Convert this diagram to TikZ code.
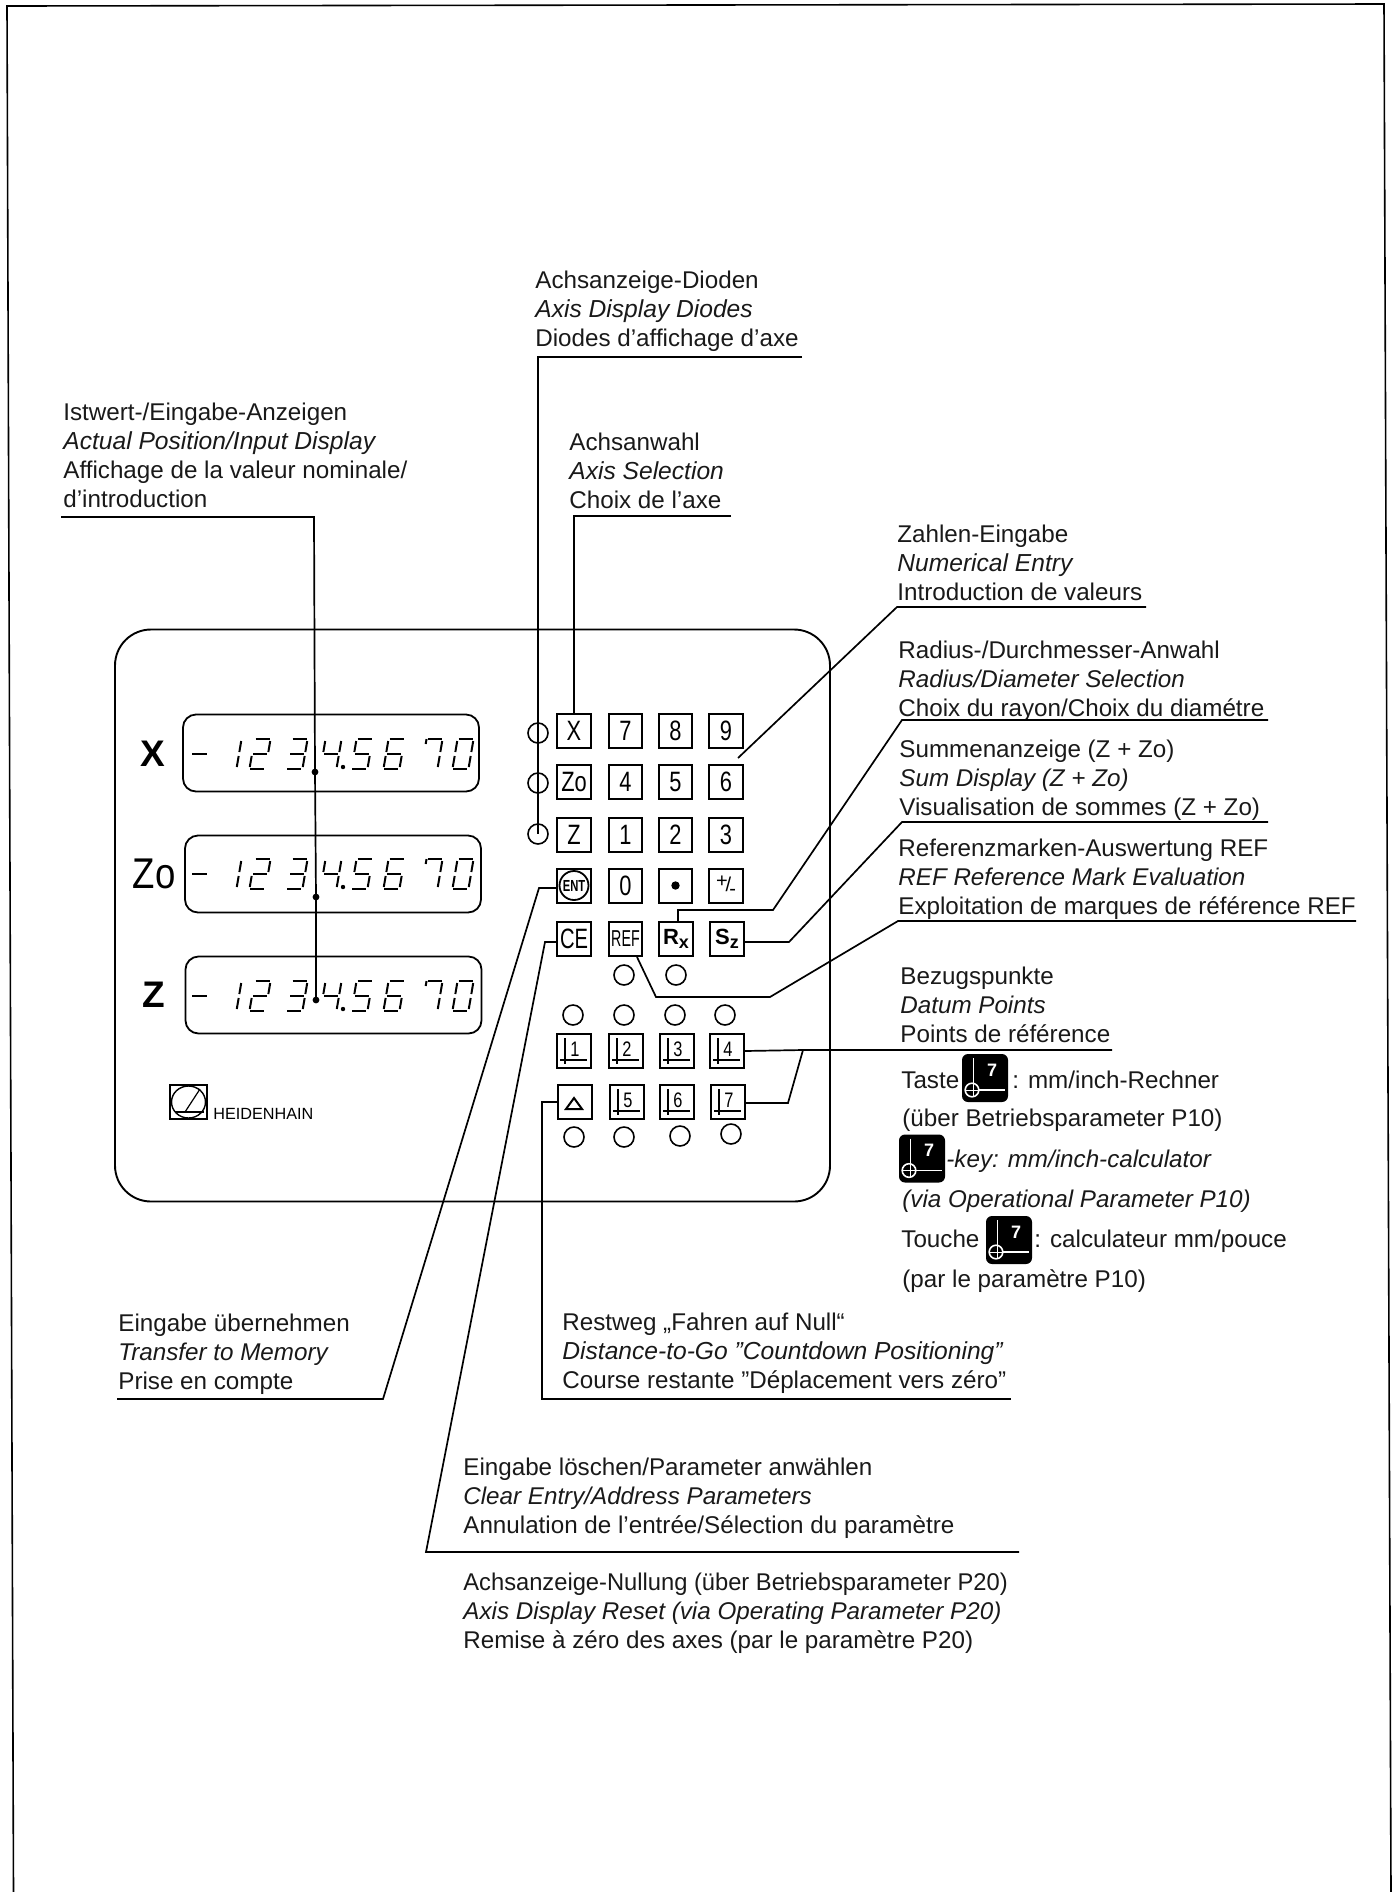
\documentclass[tikz,border=0pt]{standalone}
\usepackage{fontspec}
\usepackage{graphicx}
\setmainfont{Liberation Sans}
\newcommand\fsz[1]{\fontsize{#1}{#1}\selectfont}
\newcommand\lblfont{\fontsize{12.1}{14.35}\selectfont}
\newcommand\itl{\fontsize{12.3}{14.35}\selectfont\itshape}
\tikzset{
  x=0.5pt,y=-0.5pt,
  conn/.style={line width=0.85pt,line join=miter},
  panelbox/.style={draw,line width=0.95pt,rounded corners=18pt,minimum width=357.5pt,minimum height=286pt,inner sep=0},
  dispbox/.style={draw,line width=0.9pt,rounded corners=6.5pt,minimum width=148pt,minimum height=38.5pt,inner sep=0},
  axisname/.style={inner sep=0,font=\fsz{18.5}\bfseries},
  keybox/.style={draw,line width=1pt,minimum width=16.6pt,minimum height=17pt,inner sep=0,font=\fsz{14}},
  led/.style={draw,circle,line width=0.8pt,minimum size=10pt,inner sep=0},
  lbl/.style={anchor=north west,inner sep=0,align=left,font=\lblfont,text=black!90},
  lline/.style={anchor=base west,inner sep=0,font=\lblfont,text=black!90},
  lcd/.style={line width=1pt,line cap=butt},
  iconbox/.style={fill=black,rounded corners=3pt,minimum width=23pt,minimum height=24pt,inner sep=0},
}
\newcommand\SEGa{\draw[lcd] (-7,-15)--(7,-15);}
\newcommand\SEGb{\draw[lcd] (8,-13)--(8,-2);}
\newcommand\SEGc{\draw[lcd] (8,2)--(8,13);}
\newcommand\SEGd{\draw[lcd] (-7,15)--(7,15);}
\newcommand\SEGe{\draw[lcd] (-8,2)--(-8,13);}
\newcommand\SEGf{\draw[lcd] (-8,-13)--(-8,-2);}
\newcommand\SEGg{\draw[lcd] (-7,0)--(7,0);}
\newcommand\SEGh{\draw[lcd] (-8,-15)--(-8,-10);}
\newcommand\segdigit[3]{\begin{scope}[shift={(#1,#2)},xslant=0.17]\foreach \s in {#3}{\csname SEG\s\endcsname}\end{scope}}
\newcommand\lcdrow[1]{%
  \draw[line width=1.2pt] (192,#1) -- ++(15,0);
  \segdigit{231}{#1}{c,b}
  \segdigit{260}{#1}{a,b,g,e,d}
  \segdigit{297}{#1}{a,b,g,c,d}
  \segdigit{331}{#1}{f,g,b,c}
  \fill (343,#1+13) circle (1.1pt);
  \segdigit{362}{#1}{a,f,g,c,d}
  \segdigit{394}{#1}{a,f,g,e,d,c}
  \segdigit{432}{#1}{a,b,c,h}
  \segdigit{463}{#1}{a,b,c,d,e,f}
}
\newcommand\kl[1]{\scalebox{.78}[1]{#1}}
\newcommand\datumkey[4]{%
  \node[keybox] (#1) at (#2,#3) {};
  \begin{scope}[shift={(#2,#3)}]
    \draw[line width=.7pt] (-9,-13) -- (-9,13);
    \draw[line width=.7pt] (-14,9) -- (13,9);
    \node[inner sep=0,font=\fsz{10.5}] (#1d) at (1,-2) {\kl{#4}};
  \end{scope}}
\newcommand\iconkey[3]{%
  \node[iconbox] (#1) at (#2,#3) {};
  \begin{scope}[shift={(#2,#3)}]
    \draw[white,line width=.5pt] (-12,-20) -- (-12,19);
    \draw[white,line width=.8pt] (-13,12) circle (3.4pt);
    \draw[white,line width=.5pt] (-20,12) -- (-6,12);
    \draw[white,line width=.7pt] (-6,12) -- (20,12);
    \node[inner sep=0,text=white,font=\fsz{9}\bfseries] (#1s) at (7,-8) {7};
  \end{scope}}
\begin{document}
\begin{tikzpicture}
\useasboundingbox (0,0) rectangle (1392,1892);
% page frame
\coordinate (fbl) at (13.5,1892);
\coordinate (ftl) at (7,6);
\coordinate (ftr) at (1384,4);
\coordinate (fbr) at (1391,1892);
\draw[line width=.8pt] (fbl) -- (ftl) -- (ftr) -- (fbr);
% panel
\node[panelbox] (panel) at (472.5,915.5) {};
% displays
\node[dispbox] (dispX) at (331,753) {};
\node[dispbox] (dispZo) at (333,874) {};
\node[dispbox] (dispZ) at (333.5,995) {};
\lcdrow{754}
\lcdrow{874}
\lcdrow{996}
\node[axisname] (nameX) at (153,754) {X};
\node[inner sep=0,font=\fsz{21.5}] (nameZo) at (154,874) {\scalebox{.85}[1]{Zo}};
\node[axisname] (nameZ) at (154,995) {Z};
% logo
\node[draw,line width=.8pt,minimum width=18.5pt,minimum height=17pt,inner sep=0] (logo) at (188.5,1102) {};
\draw[line width=.7pt] (logo.center) ellipse (8.5pt and 8pt);
\draw[line width=.6pt] (175,1112) -- (204,1112);
\draw[line width=.6pt] (185,1112) -- (200,1089);
\node[anchor=base west,inner sep=0,font=\fsz{8.1}] (brand) at (213,1119) {HEIDENHAIN};
% leds
\node[led] (dX) at (538,733) {};
\node[led] (dZo) at (538,783) {};
\node[led] (dZ) at (538,834) {};
\node[led] (lrefA) at (624,975) {};
\node[led] (lrefB) at (676,975) {};
\node[led] (la1) at (573,1015) {};
\node[led] (la2) at (624,1015) {};
\node[led] (la3) at (675,1015) {};
\node[led] (la4) at (725,1015) {};
\node[led] (lb1) at (574,1137) {};
\node[led] (lb2) at (624,1137) {};
\node[led] (lb3) at (680,1136) {};
\node[led] (lb4) at (731,1134) {};
% keys
\node[keybox] (kX) at (574,731) {\kl{X}};
\node[keybox] (k7) at (625.5,731) {\kl{7}};
\node[keybox] (k8) at (675.5,731) {\kl{8}};
\node[keybox] (k9) at (726,731) {\kl{9}};
\node[keybox] (kZo) at (574,782) {\kl{Zo}};
\node[keybox] (k4) at (625.5,782) {\kl{4}};
\node[keybox] (k5) at (675.5,782) {\kl{5}};
\node[keybox] (k6) at (726,782) {\kl{6}};
\node[keybox] (kZ) at (574,835) {\kl{Z}};
\node[keybox] (k1) at (625.5,835) {\kl{1}};
\node[keybox] (k2) at (675.5,835) {\kl{2}};
\node[keybox] (k3) at (726,835) {\kl{3}};
\node[keybox] (kENT) at (574,885.5) {};
\node[draw,circle,line width=.9pt,minimum size=14.5pt,inner sep=0,font=\fsz{8}\bfseries] (kENTc) at (kENT.center) {\scalebox{.7}[1]{ENT}};
\node[keybox] (k0) at (625.5,885.5) {\kl{0}};
\node[keybox] (kdot) at (675.5,885.5) {};
\fill (kdot.center) circle (2.1pt);
\node[keybox,font=\fsz{10}] (kpm) at (726,885.5) {\raisebox{2pt}{+}\hspace{-1pt}/\hspace{-1pt}\raisebox{-2pt}{-}};
\node[keybox] (kCE) at (574,939) {\scalebox{.72}[1]{CE}};
\node[keybox,font=\fsz{11.5}] (kREF) at (625.5,939) {\scalebox{.62}[1]{REF}};
\node[keybox,font=\fsz{11}\bfseries] (kRx) at (676,939) {R\raisebox{-2pt}{\fsz{9}x}};
\node[keybox,font=\fsz{11}\bfseries] (kSz) at (727,939) {S\raisebox{-2pt}{\fsz{9}z}};
\datumkey{kd1}{574}{1051}{1}
\datumkey{kd2}{626}{1051}{2}
\datumkey{kd3}{677}{1051}{3}
\datumkey{kd4}{727}{1051}{4}
\node[keybox] (kdelta) at (575,1102) {};
\draw[line width=1pt] (566,1109) -- (574,1098) -- (582,1109) -- cycle;
\datumkey{kd5}{627}{1102}{5}
\datumkey{kd6}{677}{1102}{6}
\datumkey{kd7}{728}{1102}{7}
% labels
\node[lbl] (tDiodes) at (535,271) {Achsanzeige-Dioden\\\itl Axis Display Diodes\\Diodes d’affichage d’axe};
\node[lbl] (tActual) at (63,403) {Istwert-/Eingabe-Anzeigen\\\itl Actual Position/Input Display\\Affichage de la valeur nominale/\\d’introduction};
\node[lbl] (tAxis) at (569,433) {Achsanwahl\\\itl Axis Selection\\Choix de l’axe};
\node[lbl] (tNum) at (897,525) {Zahlen-Eingabe\\\itl Numerical Entry\\Introduction de valeurs};
\node[lbl] (tRadius) at (898,641) {Radius-/Durchmesser-Anwahl\\\itshape Radius/Diameter Selection\\Choix du rayon/Choix du diamétre};
\node[lbl] (tSum) at (899,740) {Summenanzeige (Z + Zo)\\\itshape Sum Display (Z + Zo)\\Visualisation de sommes (Z + Zo)};
\node[lbl] (tRef) at (898,839) {Referenzmarken-Auswertung REF\\\itshape REF Reference Mark Evaluation\\Exploitation de marques de référence REF};
\node[lbl] (tDatum) at (900,967) {Bezugspunkte\\\itshape Datum Points\\Points de référence};
\node[lline] (tT1a) at (901,1088) {Taste};
\node[lline] (tT1b) at (1012,1088) {: mm/inch-Rechner};
\node[lline] (tT2) at (902,1126) {(über Betriebsparameter P10)};
\node[lline,font=\lblfont\itshape] (tT3) at (946,1167) {-key: mm/inch-calculator};
\node[lline,font=\lblfont\itshape] (tT4) at (902,1207) {(via Operational Parameter P10)};
\node[lline] (tT5a) at (901,1247) {Touche};
\node[lline] (tT5b) at (1034,1247) {: calculateur mm/pouce};
\node[lline] (tT6) at (902,1287) {(par le paramètre P10)};
\iconkey{ic1}{985}{1078}
\iconkey{ic2}{922}{1158.5}
\iconkey{ic3}{1009}{1240}
\node[lbl] (tTransfer) at (118,1314) {Eingabe übernehmen\\\itshape Transfer to Memory\\Prise en compte};
\node[lbl] (tDist) at (562,1313) {Restweg „Fahren auf Null“\\\itl Distance-to-Go "Countdown Positioning"\\Course restante "Déplacement vers zéro"};
\node[lbl] (tClear) at (463,1458) {Eingabe löschen/Parameter anwählen\\\itshape Clear Entry/Address Parameters\\Annulation de l’entrée/Sélection du paramètre};
\node[lbl] (tReset) at (463,1573) {\scalebox{.98}[1]{Achsanzeige-Nullung (über Betriebsparameter P20)}\\\itshape Axis Display Reset (via Operating Parameter P20)\\Remise à zéro des axes (par le paramètre P20)};
% connector coordinates
\coordinate (aD1) at (802,357); \coordinate (aD2) at (538,357);
\coordinate (aS1) at (731,516); \coordinate (aS2) at (574,516);
\coordinate (aA1) at (61,517); \coordinate (aA2) at (314,517);
\coordinate (pX) at (315,772); \coordinate (pZo) at (316,897); \coordinate (pZ) at (316,1000);
\coordinate (aN1) at (1146,607); \coordinate (aN2) at (897,607); \coordinate (aN3) at (738,758);
\coordinate (aR1) at (1268,720); \coordinate (aR2) at (902,720); \coordinate (aR3) at (773,910); \coordinate (aR4) at (678,910);
\coordinate (aU1) at (1268,822); \coordinate (aU2) at (902,822); \coordinate (aU3) at (789,942);
\coordinate (aF1) at (1356,921); \coordinate (aF2) at (898,921); \coordinate (aF3) at (770,997); \coordinate (aF4) at (656,997);
\coordinate (aB1) at (1112,1050); \coordinate (aB2) at (803,1050); \coordinate (aB3) at (788,1103);
\coordinate (aT1) at (542,1102); \coordinate (aT2) at (542,1399); \coordinate (aT3) at (1011,1399);
\coordinate (aE1) at (539,888); \coordinate (aE2) at (383,1399); \coordinate (aE3) at (117,1399);
\coordinate (aC1) at (545,942); \coordinate (aC2) at (426,1552); \coordinate (aC3) at (1019,1552);
% connectors
\draw[conn] (aD1) -- (aD2) -- (dZ.center);
\draw[conn] (aS1) -- (aS2) -- (kX.north);
\draw[conn] (aA1) -- (aA2) -- (pX) -- (pZo) -- (pZ);
\fill (pX) circle (1.7pt); \fill (pZo) circle (1.7pt); \fill (pZ) circle (1.7pt);
\draw[conn] (aN1) -- (aN2) -- (aN3);
\draw[conn] (aR1) -- (aR2) -- (aR3) -- (aR4) -- (aR4 |- kRx.north);
\draw[conn] (aU1) -- (aU2) -- (aU3) -- (kSz.east |- aU3);
\draw[conn] (aF1) -- (aF2) -- (aF3) -- (aF4) -- (637,957);
\draw[conn] (kd4.east) -- (aB2) -- (aB1);
\draw[conn] (aB2) -- (aB3) -- (kd7.east |- aB3);
\draw[conn] (kdelta.west) -- (aT1) -- (aT2) -- (aT3);
\draw[conn] (kENT.west |- aE1) -- (aE1) -- (aE2) -- (aE3);
\draw[conn] (kCE.west |- aC1) -- (aC1) -- (aC2) -- (aC3);
\end{tikzpicture}
\end{document}
